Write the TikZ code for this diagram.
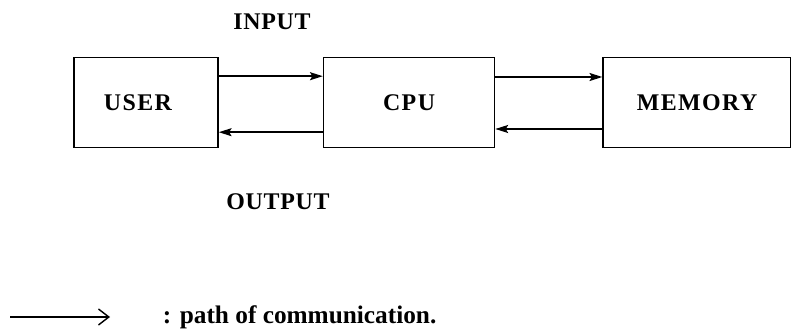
\documentclass[tikz,border=0pt]{standalone}
\usepackage{fontspec}
\setmainfont{Liberation Serif}
\usetikzlibrary{arrows.meta, positioning}
\tikzset{
  unit/.style={rectangle, draw=black, line width=1.1pt, minimum height=2.25cm,
               font=\fontsize{17}{20}\selectfont\bfseries\addfontfeature{LetterSpace=6}},
  arrow/.style={-{Stealth[length=3.2mm, width=2mm, inset=0.6mm]}, line width=1.1pt},
  label/.style={font=\fontsize{17}{20}\selectfont\bfseries\addfontfeature{LetterSpace=3}},
}
\begin{document}
\begin{tikzpicture}
  \useasboundingbox (0,0) rectangle (19.775,8.225);
  \node[unit, minimum width=3.6cm] (user) at (3.65,5.66) {USER\hspace*{0.4cm}};
  \node[unit, minimum width=4.275cm, right=2.6cm of user] (cpu) {CPU};
  \node[unit, minimum width=4.7cm, right=2.675cm of cpu] (mem) {MEMORY};

  \node[label] (input)  at (6.8,7.675) {INPUT};
  \node[label] (output) at (6.95,3.175) {OUTPUT};

  \draw[arrow] ([yshift=0.66cm]user.east) -- ([yshift=0.66cm]cpu.west);
  \draw[arrow] ([yshift=-0.74cm]cpu.west) -- ([yshift=-0.74cm]user.east);
  \draw[arrow] ([yshift=0.64cm]cpu.east) -- ([yshift=0.64cm]mem.west);
  \draw[arrow] ([yshift=-0.66cm]mem.west) -- ([yshift=-0.66cm]cpu.east);

  % legend
  \coordinate (legfrom) at (0.25,0.3);
  \coordinate (legto)   at (2.75,0.3);
  \node[font=\fontsize{18}{21}\selectfont\bfseries, anchor=west] (legtext) at (3.95,0.3) {: path of communication.};
  \draw[-{Straight Barb[length=2.6mm, width=4mm]}, line width=1pt] (legfrom) -- (legto);
\end{tikzpicture}
\end{document}
